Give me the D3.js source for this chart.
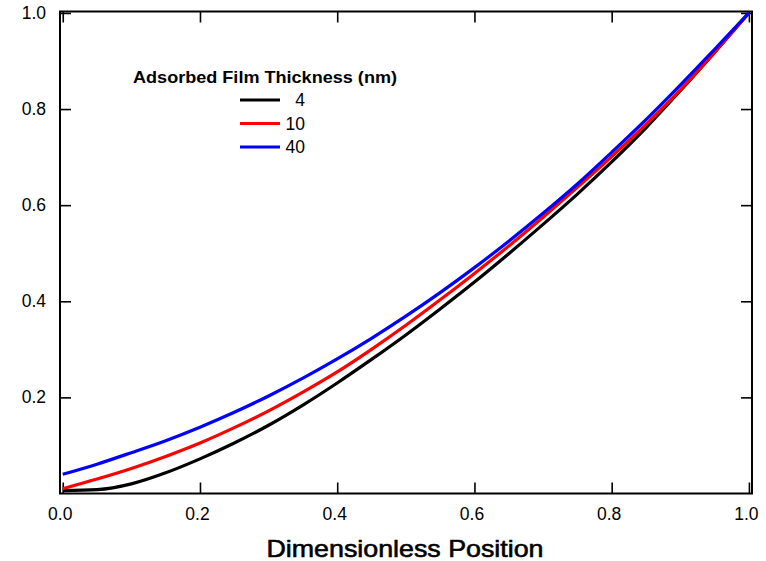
<!DOCTYPE html>
<html>
<head>
<meta charset="utf-8">
<script src="https://cdn.jsdelivr.net/npm/d3@7"></script>
<style>
    body { margin: 0; background: #fff; }
    #chart-area { width: 766px; height: 561px; }
    text { font-family: "Liberation Sans", Arial, sans-serif; fill: #000; }
</style>
</head>
<body>
<div id="chart-area"></div>
<script>

// dimensionless position (x)
let positions = [0, 0.05, 0.1, 0.15, 0.2, 0.25, 0.3, 0.35, 0.4, 0.45, 0.5,
                 0.55, 0.6, 0.65, 0.7, 0.75, 0.8, 0.85, 0.9, 0.95, 1.0];

// values, one list per film thickness
let film4  = [0.006, 0.008, 0.020, 0.043, 0.072, 0.105, 0.142, 0.184, 0.230, 0.279, 0.330,
              0.384, 0.440, 0.499, 0.560, 0.623, 0.690, 0.761, 0.838, 0.918, 1.0];
let film10 = [0.010, 0.030, 0.052, 0.077, 0.105, 0.137, 0.172, 0.211, 0.253, 0.300, 0.350,
              0.403, 0.458, 0.515, 0.575, 0.637, 0.701, 0.768, 0.840, 0.918, 1.0];
let film40 = [0.040, 0.061, 0.085, 0.110, 0.138, 0.169, 0.203, 0.240, 0.280, 0.323, 0.369,
              0.418, 0.470, 0.525, 0.583, 0.644, 0.710, 0.778, 0.850, 0.924, 1.0];

let seriesNames  = ["4", "10", "40"];
let seriesColors = ["#000000", "#ff0000", "#0000ff"];

let xTicks = [0, 0.2, 0.4, 0.6, 0.8, 1.0];
let yTicks = [0.2, 0.4, 0.6, 0.8, 1.0];

let legendTitle = "Adsorbed Film Thickness (nm)";
let xTitle = "Dimensionless Position";


class LineChart {

    constructor(parentElement, series) {
        this._parentElement = parentElement;
        this._series = series;
        this.initVis();
    }

    initVis() {
        let vis = this;

        vis.margin = {top: 11.5, right: 14, bottom: 67.5, left: 60};
        vis.width = 766 - vis.margin.left - vis.margin.right;
        vis.height = 561 - vis.margin.top - vis.margin.bottom;

        vis.svg = d3.select("#" + vis._parentElement).append("svg")
            .attr("width", 766)
            .attr("height", 561)
            .append("g")
            .attr("transform", "translate(" + vis.margin.left + "," + vis.margin.top + ")");

        // Scales (small padding past 0 and 1, like the original plot)
        vis.x = d3.scaleLinear()
            .domain([-0.004, 1.0045])
            .range([0, vis.width]);

        vis.y = d3.scaleLinear()
            .domain([0, 1.003])
            .range([vis.height, 0]);

        let tickLen = 11;

        // Axes: inward ticks on all four sides
        vis.svg.append("g")
            .attr("class", "axis x-bottom")
            .attr("transform", "translate(0," + vis.height + ")")
            .call(d3.axisBottom(vis.x).tickValues(xTicks).tickFormat(d3.format(".1f"))
                .tickSizeInner(-tickLen).tickSizeOuter(0).tickPadding(14));

        vis.svg.append("g")
            .attr("class", "axis x-top")
            .call(d3.axisTop(vis.x).tickValues(xTicks).tickFormat("")
                .tickSizeInner(-tickLen).tickSizeOuter(0));

        vis.svg.append("g")
            .attr("class", "axis y-left")
            .call(d3.axisLeft(vis.y).tickValues(yTicks).tickFormat(d3.format(".1f"))
                .tickSizeInner(-tickLen).tickSizeOuter(0).tickPadding(14));

        vis.svg.append("g")
            .attr("class", "axis y-right")
            .attr("transform", "translate(" + vis.width + ",0)")
            .call(d3.axisRight(vis.y).tickValues(yTicks).tickFormat("")
                .tickSizeInner(-tickLen).tickSizeOuter(0));

        vis.svg.selectAll(".axis path.domain").remove();
        vis.svg.selectAll(".axis line")
            .attr("stroke", "#000")
            .attr("stroke-width", 1.6);
        vis.svg.selectAll(".axis text")
            .attr("fill", "#000")
            .style("font-size", "17.5px")
            .style("font-family", "'Liberation Sans', Arial, sans-serif");
        vis.svg.selectAll(".x-bottom text").attr("dx", "-3");

        // Frame
        vis.svg.append("rect")
            .attr("width", vis.width)
            .attr("height", vis.height)
            .attr("fill", "none")
            .attr("stroke", "#000")
            .attr("stroke-width", 2);

        // x axis title
        vis.svg.append("text")
            .attr("x", vis.width / 2 - 1)
            .attr("y", vis.height + 63)
            .attr("text-anchor", "middle")
            .attr("textLength", 277)
            .attr("lengthAdjust", "spacingAndGlyphs")
            .attr("stroke", "#000")
            .attr("stroke-width", 0.6)
            .style("font-size", "24px")
            .text(xTitle);

        vis.line = d3.line()
            .curve(d3.curveMonotoneX)
            .x(d => vis.x(d.x))
            .y(d => vis.y(d.y));

        vis.wrangleData();
    }

    wrangleData() {
        let vis = this;
        vis._displayData = vis._series.map(s => ({
            name: s.name,
            color: s.color,
            values: positions.map((p, i) => ({x: p, y: s.values[i]}))
        }));
        vis.updateVis();
    }

    updateVis() {
        let vis = this;

        vis.svg.selectAll(".series")
            .data(vis._displayData)
            .enter()
            .append("path")
            .attr("class", "series")
            .attr("fill", "none")
            .attr("stroke", d => d.color)
            .attr("stroke-width", 3.2)
            .attr("d", d => vis.line(d.values));

        // Legend
        let legend = vis.svg.append("g")
            .attr("transform", "translate(" + (-vis.margin.left) + "," + (-vis.margin.top) + ")");

        legend.append("text")
            .attr("x", 133)
            .attr("y", 82.5)
            .attr("textLength", 264)
            .attr("lengthAdjust", "spacingAndGlyphs")
            .style("font-size", "16.5px")
            .style("font-weight", "bold")
            .text(legendTitle);

        let items = legend.selectAll(".legend-item")
            .data(vis._displayData)
            .enter()
            .append("g")
            .attr("class", "legend-item")
            .attr("transform", (d, i) => "translate(0," + (100 + i * 23.5) + ")");

        items.append("line")
            .attr("x1", 240)
            .attr("x2", 280)
            .attr("stroke", d => d.color)
            .attr("stroke-width", 3);

        items.append("text")
            .attr("x", 305)
            .attr("y", 6)
            .attr("text-anchor", "end")
            .style("font-size", "17.5px")
            .text(d => d.name);
    }
}

let series = [
    {name: seriesNames[0], color: seriesColors[0], values: film4},
    {name: seriesNames[1], color: seriesColors[1], values: film10},
    {name: seriesNames[2], color: seriesColors[2], values: film40}
];

let myChart = new LineChart("chart-area", series);

</script>
</body>
</html>
